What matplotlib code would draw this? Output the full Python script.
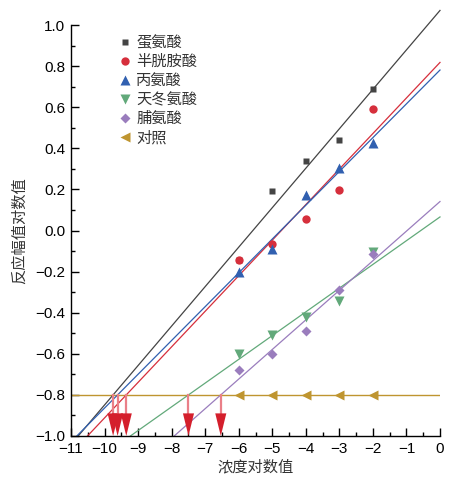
import numpy as np
import matplotlib.pyplot as plt
from matplotlib.ticker import MultipleLocator, FuncFormatter

plt.rcParams['font.family'] = ['Liberation Sans', 'Noto Sans CJK SC']

# ---- data ----
conc = [-6, -5, -4, -3, -2]
names = ['蛋氨酸', '半胱胺酸', '丙氨酸', '天冬氨酸', '脯氨酸', '对照']
met = [-0.145, 0.19, 0.34, 0.44, 0.69]
cys = [-0.145, -0.065, 0.055, 0.195, 0.59]
ala = [-0.20, -0.09, 0.175, 0.305, 0.425]
asp = [-0.60, -0.51, -0.42, -0.345, -0.105]
pro = [-0.68, -0.60, -0.49, -0.29, -0.115]
ctrl = [-0.80, -0.80, -0.80, -0.80, -0.80]

series = [met, cys, ala, asp, pro]
colors = ['#444444', '#d62f3c', '#3160b0', '#62a97a', '#9a7dbd']
markers = ['s', 'o', '^', 'v', 'D']
msizes = [5, 6, 6.5, 6.5, 5.5]
ctrl_color = '#bf9530'

fig = plt.figure(figsize=(4.59, 4.84), dpi=100)
ax = fig.add_axes([0.1547, 0.0992, 0.8039, 0.8491])
ax.set_xlim(-11, 0)
ax.set_ylim(-1, 1)

ctrl_level = np.mean(ctrl)
ax.axhline(ctrl_level, color=ctrl_color, lw=1.0, zorder=2)

handles = []
for ys, c, m, ms, lab in zip(series, colors, markers, msizes, names):
    slope, icpt = np.polyfit(conc, ys, 1)
    x0 = (-1 - icpt) / slope
    xs = np.array([x0, 0])
    ax.plot(xs, slope * xs + icpt, color=c, lw=0.9, clip_on=False, zorder=2)
    h, = ax.plot(conc, ys, ls='none', marker=m, ms=ms, color=c, mec='none', label=lab, zorder=4)
    handles.append(h)

    # arrow from the crossing with the control line down to the x axis
    xi = (ctrl_level - icpt) / slope
    ax.plot([xi, xi], [ctrl_level, -0.89], color='#ea7f88', lw=1.6, zorder=3)
    ax.fill([xi - 0.165, xi + 0.165, xi], [-0.89, -0.89, -1.0],
            color='#d41f2c', lw=0, zorder=3, clip_on=False)

h, = ax.plot(conc, ctrl, ls='none', marker='<', ms=6.5, color=ctrl_color, mec='none',
             label=names[-1], zorder=4)
handles.append(h)

ax.legend(handles=handles, loc='upper left', bbox_to_anchor=(0.11, 0.99),
          frameon=False, fontsize=11, handletextpad=0.3, labelspacing=0.32,
          handlelength=0.9, borderaxespad=0, labelcolor='#333333')

for s in ['top', 'right']:
    ax.spines[s].set_visible(False)
for s in ['left', 'bottom']:
    ax.spines[s].set_linewidth(1.0)

ax.xaxis.set_major_locator(MultipleLocator(1))
ax.xaxis.set_minor_locator(MultipleLocator(0.5))
ax.yaxis.set_major_locator(MultipleLocator(0.2))
ax.yaxis.set_minor_locator(MultipleLocator(0.1))
ax.yaxis.set_major_formatter(FuncFormatter(lambda v, p: ('%.1f' % (v + 0.0)).replace('-', '\u2212')))
ax.tick_params(which='major', direction='in', length=6, width=1, labelsize=11, pad=4)
ax.tick_params(which='minor', direction='in', length=3, width=1)

ax.set_xlabel('浓度对数值', fontsize=11, color='#333333', labelpad=3)
ax.set_ylabel('反应幅值对数值', fontsize=11, color='#333333', labelpad=6)

fig.savefig('out.png', dpi=100)
